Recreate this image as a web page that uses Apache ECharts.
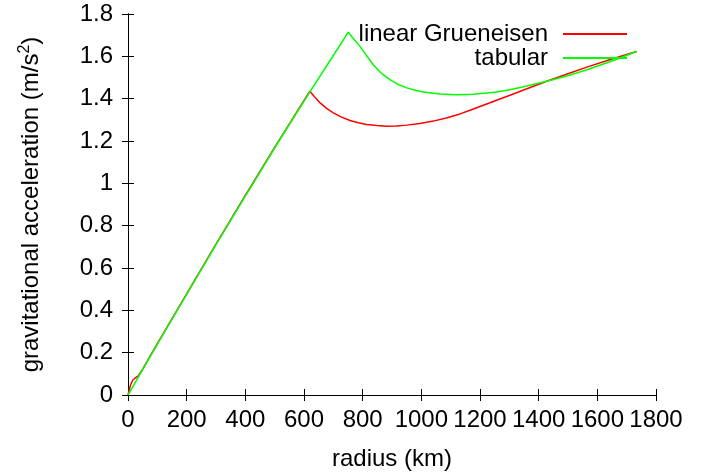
<!DOCTYPE html>
<html>
<head>
<meta charset="utf-8">
<script src="https://cdn.jsdelivr.net/npm/echarts@6/dist/echarts.min.js"></script>
<style>html,body{margin:0;padding:0;background:#fff}#c{width:709px;height:476px}</style>
</head>
<body>
<div id="c"></div>
<script>
var xTicks = [0, 200, 400, 600, 800, 1000, 1200, 1400, 1600, 1800];
var yTicks = [0, 0.2, 0.4, 0.6, 0.8, 1, 1.2, 1.4, 1.6, 1.8];
var seriesNames = ['linear Grueneisen', 'tabular'];

var redR = [0, 8, 16, 24, 35, 50, 100, 200, 300, 400, 500, 620, 635, 655, 677, 700, 728, 757, 785, 814, 848, 882, 915, 950, 995, 1041, 1085, 1132, 1166, 1200, 1250, 1300, 1360, 1427, 1500, 1564, 1650, 1734];
var redG = [0, 0.045, 0.07, 0.08, 0.09, 0.122, 0.243, 0.478, 0.713, 0.943, 1.170, 1.435, 1.410, 1.380, 1.354, 1.333, 1.313, 1.297, 1.286, 1.278, 1.273, 1.270, 1.271, 1.275, 1.283, 1.294, 1.309, 1.328, 1.345, 1.363, 1.389, 1.415, 1.447, 1.482, 1.518, 1.549, 1.587, 1.623];

var greenR = [0, 100, 200, 300, 400, 500, 532, 620, 700, 751, 770, 791, 812, 836, 862, 893, 920, 950, 980, 1007, 1064, 1120, 1177, 1250, 1302, 1360, 1427, 1500, 1564, 1650, 1734];
var greenG = [0, 0.24, 0.475, 0.71, 0.94, 1.167, 1.239, 1.432, 1.604, 1.714, 1.681, 1.647, 1.606, 1.560, 1.522, 1.490, 1.468, 1.451, 1.440, 1.432, 1.422, 1.419, 1.421, 1.430, 1.442, 1.460, 1.482, 1.508, 1.537, 1.578, 1.623];

function pairs(a, b) { return a.map(function (v, i) { return [v, b[i]]; }); }

var FONT = 'Liberation Sans';
var FS = 24;

var chart = echarts.init(document.getElementById('c'), null, {renderer: 'canvas'});
var xMin = xTicks[0], xMax = xTicks[xTicks.length - 1], xInt = xTicks[1] - xTicks[0];
var yMin = yTicks[0], yMax = yTicks[yTicks.length - 1], yInt = 0.2;

function axisCommon() {
  return {
    axisLine: {show: true, lineStyle: {color: '#000', width: 1}},
    axisTick: {show: true, inside: true, length: 6, lineStyle: {color: '#000', width: 1}},
    splitLine: {show: false}
  };
}

var xa0 = Object.assign(axisCommon(), {
  type: 'value', position: 'bottom', min: xMin, max: xMax, interval: xInt,
  axisLabel: {color: '#000', fontFamily: FONT, fontSize: FS, margin: 13, formatter: function (v) { return String(v); }},
  name: 'radius (km)', nameLocation: 'middle', nameGap: 52,
  nameTextStyle: {color: '#000', fontFamily: FONT, fontSize: FS}
});
var xa1 = Object.assign(axisCommon(), {
  type: 'value', position: 'top', min: xMin, max: xMax, interval: xInt,
  axisLabel: {show: false}
});
var ya0 = Object.assign(axisCommon(), {
  type: 'value', position: 'left', min: yMin, max: yMax, interval: yInt,
  axisLabel: {color: '#000', fontFamily: FONT, fontSize: FS, margin: 15, formatter: function (v) { return String(Math.round(v * 10) / 10); }},
  name: '{a|gravitational acceleration (m/s}{s|2}{a|)}', nameLocation: 'middle', nameGap: 85,
  nameTextStyle: {
    color: '#000', fontFamily: FONT, fontSize: FS,
    rich: {
      a: {fontFamily: FONT, fontSize: FS, color: '#000', verticalAlign: 'bottom'},
      s: {fontFamily: FONT, fontSize: 16, color: '#000', verticalAlign: 'bottom', padding: [0, 0, 10, 0]}
    }
  }
});
var ya1 = Object.assign(axisCommon(), {
  type: 'value', position: 'right', min: yMin, max: yMax, interval: yInt,
  axisLabel: {show: false}
});

chart.setOption({
  animation: false,
  backgroundColor: '#fff',
  grid: {left: 128, right: 53, top: 14, bottom: 79, containLabel: false},
  xAxis: [xa0, xa1],
  yAxis: [ya0, ya1],
  legend: {
    orient: 'vertical', right: 82, top: 22, padding: 0,
    align: 'right', itemWidth: 64, itemHeight: 2, itemGap: 0, icon: 'rect',
    textStyle: {color: '#000', fontFamily: FONT, fontSize: FS, lineHeight: 24, padding: [0, 10, 0, 0]},
    data: seriesNames
  },
  series: [
    {name: seriesNames[0], type: 'line', xAxisIndex: 0, yAxisIndex: 0, data: pairs(redR, redG),
     showSymbol: false, symbol: 'none', smooth: false, lineStyle: {color: '#ff0000', width: 1.5}, itemStyle: {color: '#ff0000'}},
    {name: seriesNames[1], type: 'line', xAxisIndex: 0, yAxisIndex: 0, data: pairs(greenR, greenG),
     showSymbol: false, symbol: 'none', smooth: false, lineStyle: {color: '#00ff00', width: 1.5}, itemStyle: {color: '#00ff00'}}
  ]
});
</script>
</body>
</html>
